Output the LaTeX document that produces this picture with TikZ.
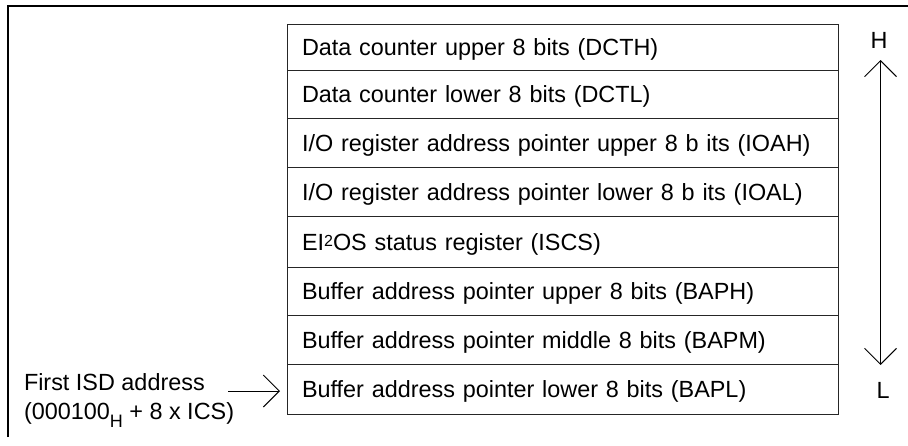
\documentclass[tikz,border=0pt]{standalone}
\usepackage{fontspec}
\setmainfont{Liberation Sans}
\usetikzlibrary{arrows.meta}
\begin{document}
\begin{tikzpicture}[x=1pt,y=-1pt,
  font=\fontsize{23.4}{29}\selectfont,
  regrow/.style={draw=black!85, line width=1pt, anchor=north west, outer sep=0pt,
    minimum width=551pt, text width=521pt, align=left, inner xsep=15pt, inner ysep=0pt,
    text height=17pt, text depth=0pt},
  barb/.style={line width=1pt, -{Straight Barb[length=16pt,width=32pt]}},
  dbarb/.style={line width=1pt, {Straight Barb[length=16pt,width=32pt]}-{Straight Barb[length=16pt,width=32pt]}},
  lbl/.style={inner sep=0pt, outer sep=0pt}]
\useasboundingbox (0,0) rectangle (908,445);
% outer frame (left and top edges)
\draw[line width=2.5pt] (8,437) -- (8,6) -- (908,6);
% register rows
\node[regrow, minimum height=46pt] (r1) at (287,24)  {Data counter upper 8 bits (DCTH)};
\node[regrow, minimum height=48pt] (r2) at (287,70)  {Data counter lower 8 bits (DCTL)};
\node[regrow, minimum height=49pt] (r3) at (287,118) {I/O register address pointer upper 8 b its (IOAH)};
\node[regrow, minimum height=49pt] (r4) at (287,167) {I/O register address pointer lower 8 b its (IOAL)};
\node[regrow, minimum height=51pt] (r5) at (287,216) {EI\raisebox{4pt}{\fontsize{16}{16}\selectfont 2}OS status register (ISCS)};
\node[regrow, minimum height=48pt] (r6) at (287,267) {Buffer address pointer upper 8 bits (BAPH)};
\node[regrow, minimum height=49pt] (r7) at (287,315) {Buffer address pointer middle 8 bits (BAPM)};
\node[regrow, minimum height=50pt] (r8) at (287,364) {Buffer address pointer lower 8 bits (BAPL)};
% H / L direction
\node[lbl, anchor=base] (H) at (879,48) {H};
\node[lbl, anchor=base] (L) at (883,398) {L};
\coordinate (hi) at (880.5,60);
\coordinate (lo) at (880.5,365);
\draw[dbarb] (hi) -- (lo);
% first ISD address
\node[lbl, anchor=base west, align=left] (isdtext) at (24,419)
  {First ISD address\\(000100\raisebox{-8pt}{\fontsize{18}{18}\selectfont H} + 8 x ICS)};
\coordinate (isd) at (228,391);
\draw[barb, shorten >=7pt] (isd) -- (isd -| r8.west);
\end{tikzpicture}
\end{document}
